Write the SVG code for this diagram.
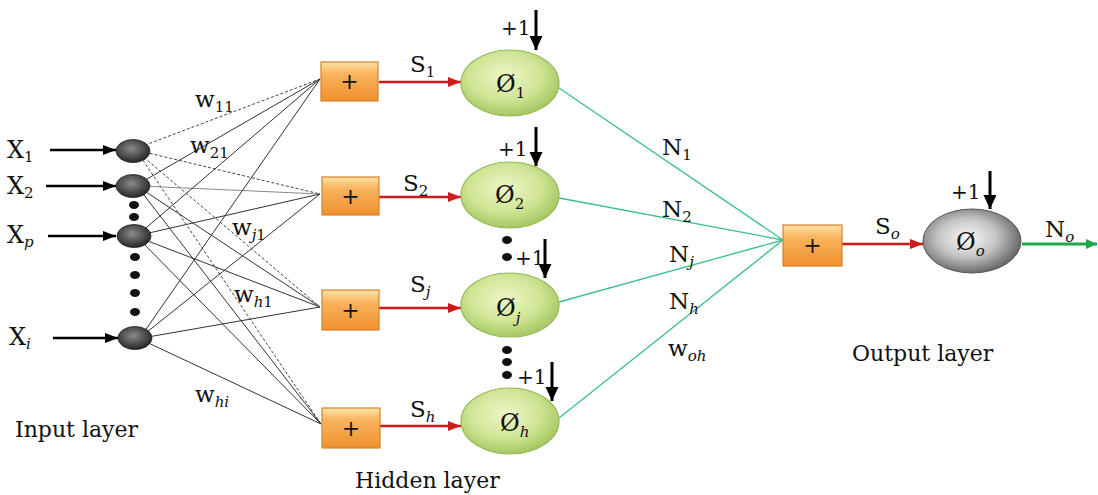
<svg xmlns="http://www.w3.org/2000/svg" width="1098" height="495" viewBox="0 0 1098 495">
<defs>
<style>
text{font-family:"DejaVu Serif","Liberation Serif",serif;fill:#111}
.lbl{font-size:23px}
.sub{font-size:15px}
.big{font-size:22px}
.phi{font-size:24px}
.one{font-size:20px}
.w{stroke:#333;stroke-width:1;fill:none}
.wd{stroke:#444;stroke-width:1;stroke-dasharray:3 2;fill:none}
.wl{stroke:#888;stroke-width:1;fill:none}
.g{stroke:#3cbf8a;stroke-width:1.3;fill:none}
.red{stroke:#cc1b1b;stroke-width:2.5;fill:none}
.blk{stroke:#000;stroke-width:2.5;fill:none}
.bias{stroke:#000;stroke-width:3;fill:none}
.grn{stroke:#1aa84a;stroke-width:3;fill:none}
.box{fill:url(#orange);stroke:#d5822c;stroke-width:1.2}
.hid{fill:url(#green);stroke:#94b957;stroke-width:1.2}
.inp{fill:url(#dark);stroke:#222;stroke-width:0.8}
.dot{fill:#111}
</style>
<linearGradient id="orange" x1="0" y1="0" x2="0" y2="1">
<stop offset="0" stop-color="#fde4a8"/>
<stop offset="0.3" stop-color="#f9b45e"/>
<stop offset="1" stop-color="#f0902e"/>
</linearGradient>
<radialGradient id="green" cx="0.45" cy="0.4" r="0.6">
<stop offset="0" stop-color="#eef6c8"/>
<stop offset="0.6" stop-color="#cfe595"/>
<stop offset="1" stop-color="#a5c862"/>
</radialGradient>
<radialGradient id="dark" cx="0.45" cy="0.4" r="0.6">
<stop offset="0" stop-color="#8a8a8a"/>
<stop offset="1" stop-color="#262626"/>
</radialGradient>
<radialGradient id="gray" cx="0.45" cy="0.45" r="0.6">
<stop offset="0" stop-color="#fafafa"/>
<stop offset="0.5" stop-color="#c4c4c4"/>
<stop offset="1" stop-color="#5a5a5a"/>
</radialGradient>
<marker id="ahB" markerUnits="userSpaceOnUse" markerWidth="13" markerHeight="10" refX="13" refY="5" orient="auto"><path d="M0,0 L13,5 L0,10 z" fill="#000"/></marker>
<marker id="ahBias" markerUnits="userSpaceOnUse" markerWidth="13" markerHeight="14" refX="14" refY="6.5" orient="auto"><path d="M0,0 L14,6.5 L0,13 z" fill="#000"/></marker>
<marker id="ahR" markerUnits="userSpaceOnUse" markerWidth="13" markerHeight="10" refX="13" refY="5" orient="auto"><path d="M0,0 L13,5 L0,10 z" fill="#cc1b1b"/></marker>
<marker id="ahG" markerUnits="userSpaceOnUse" markerWidth="11" markerHeight="10" refX="11" refY="5" orient="auto"><path d="M0,0 L11,5 L0,10 z" fill="#1aa84a"/></marker>
</defs>
<rect width="1098" height="495" fill="#fff"/>

<g id="connectors">
<line class="wd" x1="140" y1="147" x2="320" y2="79"/>
<line class="wd" x1="140" y1="151" x2="320" y2="194"/>
<line class="wd" x1="140" y1="154" x2="320" y2="307"/>
<line class="wd" x1="140" y1="156" x2="321" y2="424"/>
<line class="w" x1="140" y1="183" x2="320" y2="79"/>
<line class="wl" x1="140" y1="186" x2="320" y2="194"/>
<line class="w" x1="140" y1="188" x2="320" y2="307"/>
<line class="w" x1="140" y1="190" x2="321" y2="424"/>
<line class="w" x1="140" y1="233" x2="320" y2="79"/>
<line class="w" x1="140" y1="235" x2="320" y2="194"/>
<line class="w" x1="140" y1="238" x2="320" y2="307"/>
<line class="w" x1="140" y1="240" x2="321" y2="424"/>
<line class="w" x1="142" y1="335" x2="320" y2="79"/>
<line class="w" x1="142" y1="336" x2="320" y2="194"/>
<line class="w" x1="142" y1="338" x2="320" y2="307"/>
<line class="w" x1="142" y1="340" x2="321" y2="424"/>
<line class="blk" x1="50" y1="150" x2="116" y2="150" marker-end="url(#ahB)"/>
<line class="blk" x1="46" y1="186" x2="116" y2="186" marker-end="url(#ahB)"/>
<line class="blk" x1="48" y1="236" x2="116" y2="236" marker-end="url(#ahB)"/>
<line class="blk" x1="53" y1="338" x2="118" y2="338" marker-end="url(#ahB)"/>
<line class="red" x1="379" y1="82" x2="461" y2="82" marker-end="url(#ahR)"/>
<line class="red" x1="379" y1="197" x2="461" y2="197" marker-end="url(#ahR)"/>
<line class="red" x1="379" y1="308" x2="461" y2="308" marker-end="url(#ahR)"/>
<line class="red" x1="380" y1="426" x2="461" y2="426" marker-end="url(#ahR)"/>
<line class="g" x1="559" y1="88" x2="783" y2="240"/>
<line class="g" x1="559" y1="198" x2="783" y2="240"/>
<line class="g" x1="559" y1="302" x2="783" y2="240"/>
<line class="g" x1="559" y1="418" x2="783" y2="240"/>
<line class="red" x1="842" y1="244" x2="923" y2="244" marker-end="url(#ahR)"/>
<line class="grn" x1="1022" y1="244" x2="1097" y2="244" marker-end="url(#ahG)"/>
<line class="bias" x1="536" y1="10" x2="536" y2="50" marker-end="url(#ahBias)"/>
<line class="bias" x1="536" y1="127" x2="536" y2="166" marker-end="url(#ahBias)"/>
<line class="bias" x1="545" y1="239" x2="545" y2="278" marker-end="url(#ahBias)"/>
<line class="bias" x1="552" y1="362" x2="552" y2="401" marker-end="url(#ahBias)"/>
<line class="bias" x1="990" y1="171" x2="990" y2="209" marker-end="url(#ahBias)"/>
</g>

<g id="labels">
<text class="lbl" x="195" y="107">w<tspan class="sub" dy="5">11</tspan></text>
<text class="lbl" x="190" y="153">w<tspan class="sub" dy="5">21</tspan></text>
<text class="lbl" x="232" y="235">w<tspan class="sub" dy="5" font-style="italic">j</tspan><tspan class="sub">1</tspan></text>
<text class="lbl" x="234" y="302">w<tspan class="sub" dy="5" font-style="italic">h</tspan><tspan class="sub">1</tspan></text>
<text class="lbl" x="195" y="402">w<tspan class="sub" dy="5" font-style="italic">hi</tspan></text>
<text class="lbl" x="662" y="155">N<tspan class="sub" dy="5">1</tspan></text>
<text class="lbl" x="662" y="217">N<tspan class="sub" dy="5">2</tspan></text>
<text class="lbl" x="669" y="262">N<tspan class="sub" dy="5" font-style="italic">j</tspan></text>
<text class="lbl" x="669" y="309">N<tspan class="sub" dy="5" font-style="italic">h</tspan></text>
<text class="lbl" x="668" y="356">w<tspan class="sub" dy="5" font-style="italic">oh</tspan></text>
<text class="lbl" x="410" y="72">S<tspan class="sub" dy="5">1</tspan></text>
<text class="lbl" x="403" y="191">S<tspan class="sub" dy="5">2</tspan></text>
<text class="lbl" x="410" y="292">S<tspan class="sub" dy="5" font-style="italic">j</tspan></text>
<text class="lbl" x="410" y="417">S<tspan class="sub" dy="5" font-style="italic">h</tspan></text>
<text class="lbl" x="875" y="234">S<tspan class="sub" dy="5" font-style="italic">o</tspan></text>
<text class="lbl" x="1045" y="237">N<tspan class="sub" dy="5" font-style="italic">o</tspan></text>
<text class="one" x="501" y="35">+1</text>
<text class="one" x="498" y="156">+1</text>
<text class="one" x="515" y="265">+1</text>
<text class="one" x="517" y="384">+1</text>
<text class="one" x="951" y="199">+1</text>
</g>

<g id="input-layer">
<text class="lbl" x="7" y="158" style="font-size:24px">X<tspan class="sub" dy="4">1</tspan></text>
<text class="lbl" x="7" y="194" style="font-size:24px">X<tspan class="sub" dy="4">2</tspan></text>
<text class="lbl" x="7" y="243" style="font-size:24px">X<tspan class="sub" dy="4" font-style="italic">p</tspan></text>
<text class="lbl" x="9" y="345" style="font-size:24px">X<tspan class="sub" dy="4" font-style="italic">i</tspan></text>
<ellipse id="x1" class="inp" cx="133" cy="151" rx="17" ry="11.5"/>
<ellipse id="x2" class="inp" cx="133" cy="186" rx="17" ry="11.5"/>
<ellipse id="xp" class="inp" cx="134" cy="236" rx="17" ry="11.5"/>
<ellipse id="xi" class="inp" cx="135" cy="338" rx="17" ry="11.5"/>
<ellipse class="dot" cx="134" cy="205" rx="5" ry="4"/>
<ellipse class="dot" cx="134" cy="217" rx="5" ry="4"/>
<ellipse class="dot" cx="135" cy="257" rx="5" ry="4"/>
<ellipse class="dot" cx="135" cy="275" rx="5" ry="4"/>
<ellipse class="dot" cx="135" cy="293" rx="5" ry="4"/>
<ellipse class="dot" cx="135" cy="312" rx="5" ry="4"/>
<text class="big" x="15" y="437">Input layer</text>
</g>

<g id="sum1"><rect class="box" x="321" y="62" width="57" height="39"/><text class="big" x="349.5" y="89" text-anchor="middle">+</text></g>
<g id="sum2"><rect class="box" x="322" y="177" width="57" height="38"/><text class="big" x="350.5" y="204" text-anchor="middle">+</text></g>
<g id="sumj"><rect class="box" x="322" y="290" width="57" height="40"/><text class="big" x="350.5" y="318" text-anchor="middle">+</text></g>
<g id="sumh"><rect class="box" x="322" y="408" width="58" height="40"/><text class="big" x="351" y="436" text-anchor="middle">+</text></g>

<g id="hidden1"><ellipse class="hid" cx="510" cy="83" rx="49" ry="33"/><text class="phi" x="496" y="92">Ø<tspan class="sub" dy="6">1</tspan></text></g>
<g id="hidden2"><ellipse class="hid" cx="510" cy="195" rx="49" ry="33"/><text class="phi" x="495" y="203">Ø<tspan class="sub" dy="6">2</tspan></text></g>
<g id="hiddenj"><ellipse class="hid" cx="510" cy="305" rx="49" ry="32"/><text class="phi" x="496" y="316">Ø<tspan class="sub" dy="7" font-style="italic">j</tspan></text></g>
<g id="hiddenh"><ellipse class="hid" cx="510" cy="421" rx="49" ry="33"/><text class="phi" x="500" y="431">Ø<tspan class="sub" dy="6" font-style="italic">h</tspan></text></g>
<g id="hidden-dots">
<ellipse class="dot" cx="507" cy="240" rx="5" ry="4"/>
<ellipse class="dot" cx="507" cy="257" rx="5" ry="4"/>
<ellipse class="dot" cx="507" cy="350" rx="5" ry="4"/>
<ellipse class="dot" cx="507" cy="362" rx="5" ry="4"/>
<ellipse class="dot" cx="507" cy="375" rx="5" ry="4"/>
</g>
<text class="big" x="355" y="488">Hidden layer</text>

<g id="sum-out"><rect class="box" x="783" y="225" width="59" height="41"/><text class="big" x="812.5" y="253" text-anchor="middle">+</text></g>
<g id="output"><ellipse cx="972" cy="241" rx="49" ry="32" fill="url(#gray)" stroke="#555" stroke-width="1"/><text class="phi" x="956" y="250">Ø<tspan class="sub" dy="6" font-style="italic">o</tspan></text></g>
<text class="big" x="852" y="361">Output layer</text>
</svg>
